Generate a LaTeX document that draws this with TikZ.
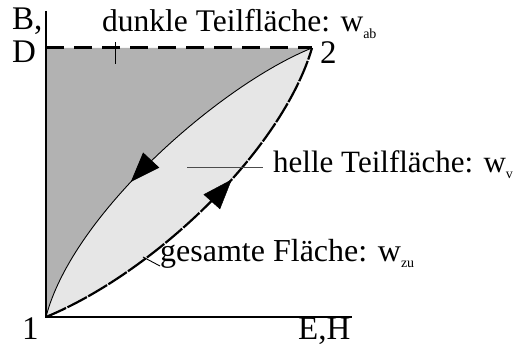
\documentclass[tikz,border=0pt]{standalone}
\usepackage{fontspec}
\setmainfont{Liberation Serif}
\usetikzlibrary{arrows.meta,decorations.markings}
\definecolor{darkarea}{HTML}{B2B2B2}
\definecolor{lightarea}{HTML}{E6E6E6}
\newcommand{\subtxt}[2][-6pt]{\raisebox{#1}{\fontsize{14}{14}\selectfont #2}}
\begin{document}
\begin{tikzpicture}[x=1pt,y=-1pt,
  lbl/.style={font=\fontsize{33}{33}\selectfont, inner sep=0pt, anchor=base west},
  axisline/.style={line width=2.5pt},
  topdash/.style={line width=3pt, dash pattern=on 18pt off 10pt},
  lowcurve/.style={line width=2.2pt, dash pattern=on 22pt off 1.5pt},
  upcurve/.style={line width=0.9pt},
  leader/.style={line width=0.9pt},
  arrmark/.style={postaction={decorate}, decoration={markings, mark=at position #1 with {\arrow{Triangle[length=30pt,width=22pt]}}}}
]
\useasboundingbox (0,0) rectangle (515,347);
\coordinate (p1) at (46,317);
\coordinate (p2) at (312,48);
\coordinate (ptl) at (46,48);
\coordinate (ytop) at (46,11);
\coordinate (xend) at (352,317);
% areas
\fill[darkarea] (p1) .. controls (72,215) and (220,85) .. (p2) -- (ptl) -- cycle;
\fill[lightarea] (p1) .. controls (72,215) and (220,85) .. (p2) .. controls (282,150) and (155,272) .. (p1) -- cycle;
% axes
\draw[axisline] (ytop) -- (p1) -- (xend);
\draw[topdash] (ptl) -- (p2);
% curves
\draw[upcurve, arrmark=0.585] (p2) .. controls (220,85) and (72,215) .. (p1);
\draw[lowcurve] (p1) .. controls (155,272) and (282,150) .. (p2);
\path[arrmark=0.6] (p1) .. controls (155,272) and (282,150) .. (p2);
% labels
\node[lbl] (lB) at (12,30) {B,};
\node[lbl] (lD) at (12,63) {D};
\node[lbl] (l1) at (22,340) {1};
\node[lbl] (l2) at (320,64) {2};
\node[lbl] (lEH) at (298,340) {E,H};
\node[lbl, font=\fontsize{31.5}{31.5}\selectfont] (ldark) at (102,32) {dunkle Teilfläche: w\subtxt[-7pt]{ab}};
\node[lbl, font=\fontsize{31}{31}\selectfont] (llight) at (273,173) {helle Teilfläche: w\subtxt{v}};
\node[lbl, font=\fontsize{32}{32}\selectfont] (ltotal) at (160,262) {gesamte Fläche: w\subtxt{zu}};
% leaders
\coordinate (tickA) at (115,42);
\coordinate (tickB) at (115,64);
\draw[leader] (tickA) -- (tickB);
\coordinate (hA) at (187,167);
\coordinate (hB) at (263,167);
\draw[leader, black!70] (hA) -- (hB);
\coordinate (gA) at (143,257);
\coordinate (gB) at (160,266);
\draw[leader] (gA) -- (gB);
\end{tikzpicture}
\end{document}
